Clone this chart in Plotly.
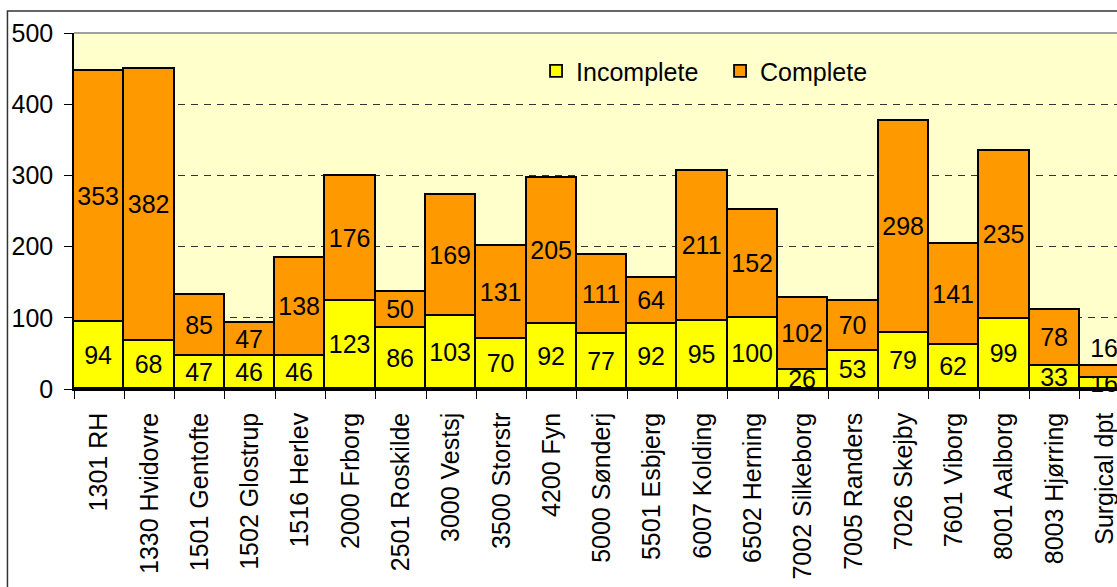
import plotly.graph_objects as go

# Departments along the x axis
departments = [
    "1301 RH", "1330 Hvidovre", "1501 Gentofte", "1502 Glostrup", "1516 Herlev",
    "2000 Frborg", "2501 Roskilde", "3000 Vestsj", "3500 Storstr", "4200 Fyn",
    "5000 Sønderj", "5501 Esbjerg", "6007 Kolding", "6502 Herning", "7002 Silkeborg",
    "7005 Randers", "7026 Skejby", "7601 Viborg", "8001 Aalborg", "8003 Hjørring",
    "Surgical dpt",
]

# Counts per department (stacked: incomplete at the bottom, complete on top)
incomplete = [94, 68, 47, 46, 46, 123, 86, 103, 70, 92, 77, 92, 95, 100, 26,
              53, 79, 62, 99, 33, 16]
complete = [353, 382, 85, 47, 138, 176, 50, 169, 131, 205, 111, 64, 211, 152, 102,
            70, 298, 141, 235, 78, 16]

y_ticks = [0, 100, 200, 300, 400, 500]

FONT = "Liberation Sans, Arial, sans-serif"
LABEL_SIZE = 25

# The last bar is too thin for its label, so that one sits above the stack
complete_pos = ["inside"] * (len(complete) - 1) + ["outside"]

fig = go.Figure()
fig.add_trace(go.Bar(
    x=departments, y=incomplete, name="Incomplete",
    marker=dict(color="#FFFF00", line=dict(color="black", width=1.8)),
    text=incomplete, textposition="inside", insidetextanchor="middle",
    textangle=0, constraintext="none",
    textfont=dict(family=FONT, size=LABEL_SIZE, color="black"),
    cliponaxis=False,
))
fig.add_trace(go.Bar(
    x=departments, y=complete, name="Complete",
    marker=dict(color="#FF9900", line=dict(color="black", width=1.8)),
    text=complete, textposition=complete_pos, insidetextanchor="middle",
    textangle=0, constraintext="none",
    textfont=dict(family=FONT, size=LABEL_SIZE, color="black"),
    cliponaxis=False,
))

fig.update_layout(
    width=1117, height=587,
    margin=dict(l=74, r=0, t=33, b=198, pad=0),
    barmode="stack", bargap=0,
    plot_bgcolor="#FFFFCC", paper_bgcolor="white",
    font=dict(family=FONT, size=LABEL_SIZE, color="black"),
    showlegend=True,
    legend=dict(
        orientation="h", x=0.443, xanchor="left", y=0.893, yanchor="middle",
        bgcolor="rgba(0,0,0,0)", font=dict(family=FONT, size=LABEL_SIZE),
        traceorder="normal", entrywidth=139, entrywidthmode="pixels",
    ),
    xaxis=dict(
        type="category", range=[-0.5, 20.24], tickangle=-90,
        tickson="boundaries", ticks="outside", ticklen=8, tickcolor="black",
        showline=True, linecolor="black", linewidth=1.5,
        showgrid=False, ticklabelstandoff=12,
        tickfont=dict(family=FONT, size=25, color="black"),
    ),
    yaxis=dict(
        range=[0, 500], tickvals=y_ticks, ticks="outside", ticklen=8,
        tickcolor="black", showline=True, linecolor="black", linewidth=1.5,
        showgrid=True, gridcolor="#333333", gridwidth=1, griddash="7px,6px",
        zeroline=False, ticklabelstandoff=6,
        tickfont=dict(family=FONT, size=LABEL_SIZE, color="black"),
    ),
    shapes=[
        # grey frame along the top of the plotting area
        dict(type="line", xref="paper", yref="paper", x0=0, x1=1.05, y0=1, y1=1,
             line=dict(color="#808080", width=1.5), layer="above"),
        # outer chart frame
        dict(type="rect", xref="paper", yref="paper", x0=-0.0638, x1=1.1,
             y0=-1.0, y1=1.0618, line=dict(color="#333333", width=1.5),
             fillcolor="rgba(0,0,0,0)", layer="above"),
    ],
)

fig.write_html("out.html")
